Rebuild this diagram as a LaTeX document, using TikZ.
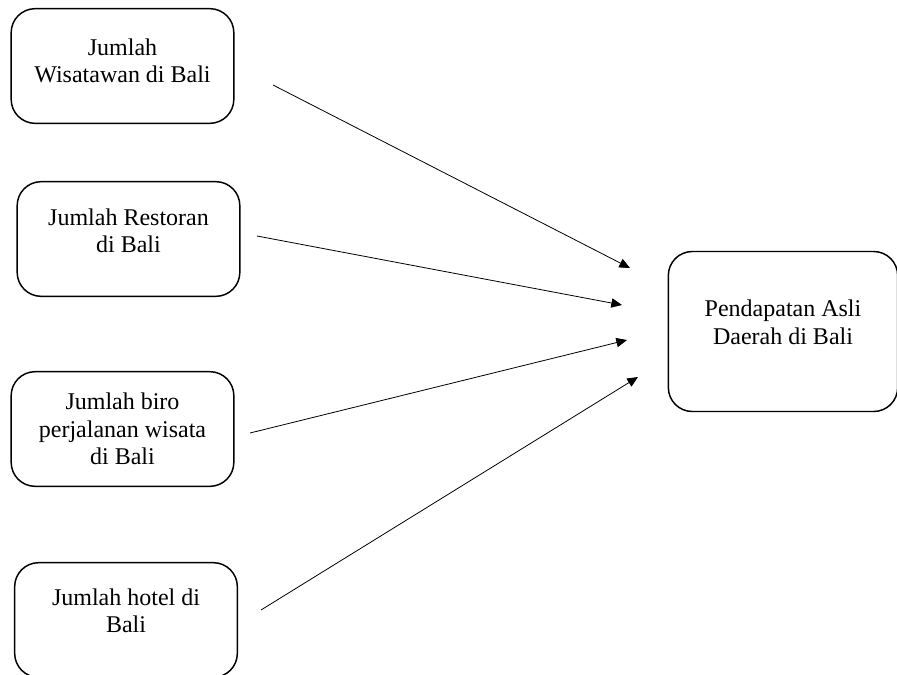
\documentclass[tikz,border=0pt]{standalone}
\usepackage{fontspec}
\setmainfont{Liberation Serif}
\usepackage{tikz}
\usetikzlibrary{arrows.meta}

\begin{document}
\begin{tikzpicture}[
  x=0.75pt,y=-0.75pt,
  box/.style={draw,line width=1.1pt,rounded corners=18pt,align=center,
    font=\fontsize{18}{20.5}\selectfont,minimum width=167pt,minimum height=86pt,
    inner sep=0pt},
  a/.style={-{Triangle[length=8pt,width=7pt]},line width=0.6pt}
]
\useasboundingbox (0,0) rectangle (897,675);
\node[box,text depth=8pt] (wisatawan) at (122.5,66) {Jumlah\\Wisatawan di Bali};
\node[box,text depth=12pt] (restoran) at (128.5,239) {Jumlah Restoran\\di Bali};
\node[box] (biro) at (122.5,429) {Jumlah biro\\perjalanan wisata\\di Bali};
\node[box,text depth=14pt] (hotel) at (126,620) {Jumlah hotel di\\Bali};
\node[box,minimum width=172pt,minimum height=120pt,text depth=14pt] (pad) at (783,331.5) {Pendapatan Asli\\Daerah di Bali};

% ujung panah
\coordinate (w1) at (273,85);  \coordinate (p1) at (630,268);
\coordinate (r1) at (257,236); \coordinate (p2) at (622,305);
\coordinate (b1) at (250,433); \coordinate (p3) at (627,340);
\coordinate (h1) at (261,610); \coordinate (p4) at (638,377);

\draw[a] (w1) -- (p1);
\draw[a] (r1) -- (p2);
\draw[a] (b1) -- (p3);
\draw[a] (h1) -- (p4);
\end{tikzpicture}
\end{document}
